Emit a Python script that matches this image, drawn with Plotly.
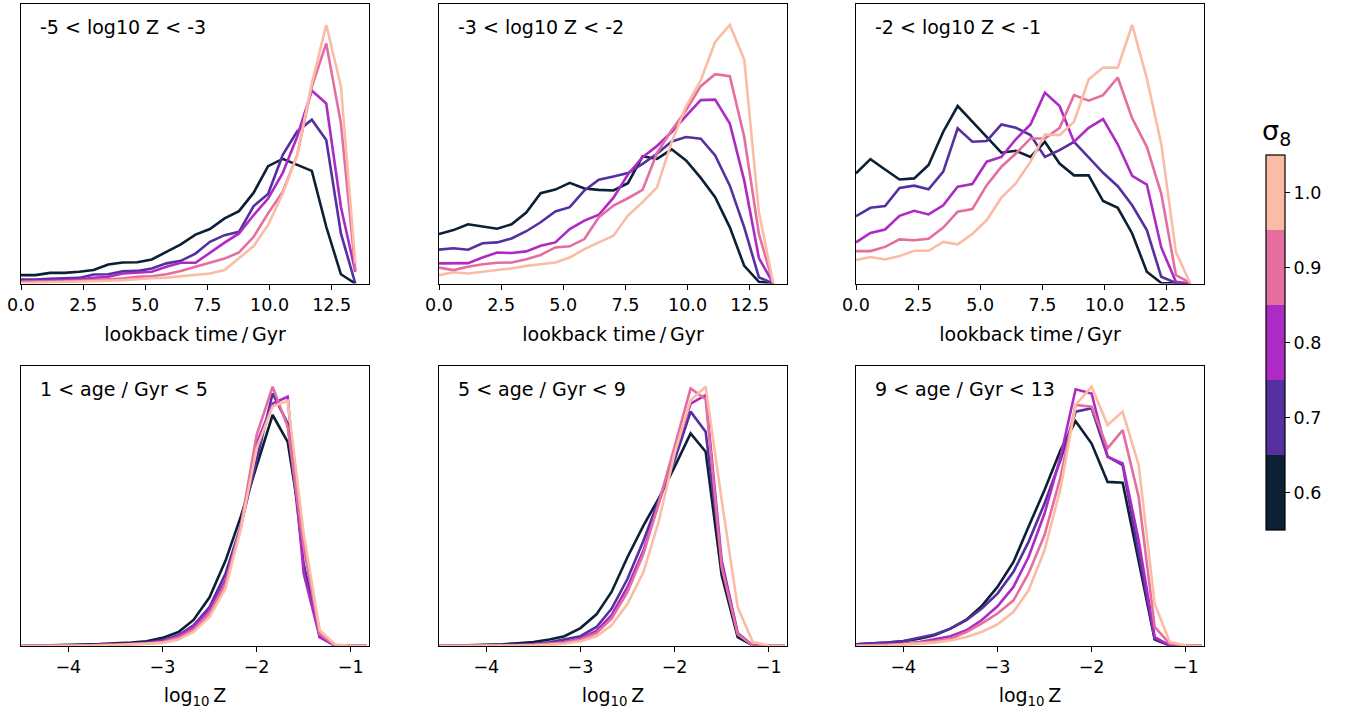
import plotly.graph_objects as go

# ---------------- data ----------------
sigma8 = [0.6, 0.7, 0.8, 0.9, 1.0]
colors = ["#0b1f35", "#5530a0", "#ad2bc4", "#e46ea0", "#fbbca6"]

lookback = [0.00, 0.58, 1.17, 1.75, 2.34, 2.92, 3.51, 4.09, 4.68, 5.26, 5.85, 6.43,
            7.02, 7.60, 8.19, 8.77, 9.36, 9.94, 10.53, 11.11, 11.70, 12.28, 12.87, 13.45]
logZ = [-4.50, -4.33, -4.17, -4.00, -3.83, -3.67, -3.50, -3.33, -3.17, -3.00, -2.83, -2.67,
        -2.50, -2.33, -2.17, -2.00, -1.83, -1.67, -1.50, -1.33, -1.17, -1.00, -0.83]

top_titles = ["-5 < log10 Z < -3", "-3 < log10 Z < -2", "-2 < log10 Z < -1"]
bottom_titles = ["1 < age / Gyr < 5", "5 < age / Gyr < 9", "9 < age / Gyr < 13"]

# time distributions (arbitrary units), one list per sigma8
sfh_z1 = [
    [3.0, 3.0, 3.8, 3.8, 4.2, 4.8, 6.8, 7.5, 7.6, 8.6, 11.3, 14.0, 17.5, 19.5, 23.3, 25.9, 32.5, 42.0, 44.6, 42.4, 40.3, 20.3, 3.3, 0.0],
    [1.4, 1.4, 1.7, 1.8, 2.0, 3.2, 3.3, 4.4, 4.5, 5.4, 7.2, 8.1, 10.7, 14.9, 17.3, 18.5, 27.7, 32.0, 46.0, 54.4, 58.6, 51.3, 17.9, 0.0],
    [0.8, 0.8, 1.0, 1.2, 1.4, 2.0, 2.4, 3.6, 3.8, 4.2, 6.0, 7.4, 7.4, 11.1, 14.6, 17.9, 24.5, 30.4, 39.6, 52.5, 69.0, 64.4, 27.4, 4.2],
    [0.6, 0.6, 0.7, 0.8, 1.0, 1.2, 1.4, 1.8, 2.4, 2.6, 3.3, 4.5, 6.0, 7.4, 8.9, 11.1, 16.7, 25.1, 32.8, 45.9, 70.4, 85.9, 57.3, 4.8],
    [0.2, 0.3, 0.4, 0.5, 0.6, 0.8, 1.0, 1.2, 1.6, 1.9, 2.1, 2.6, 3.2, 3.6, 4.8, 9.0, 13.4, 20.9, 32.2, 45.9, 71.6, 92.5, 70.6, 7.2],
]
sfh_z2 = [
    [17.7, 19.1, 21.2, 20.3, 19.6, 21.2, 25.4, 32.3, 33.6, 36.0, 34.0, 33.5, 33.3, 35.9, 45.5, 44.6, 48.0, 44.0, 37.8, 30.9, 20.1, 6.3, 0.6, 0.0],
    [12.1, 12.6, 12.1, 14.4, 14.7, 16.1, 18.7, 21.9, 25.8, 27.3, 33.3, 37.1, 38.3, 39.5, 42.8, 46.4, 50.8, 52.4, 51.8, 45.8, 35.0, 20.1, 2.2, 0.0],
    [7.2, 7.3, 7.3, 9.3, 11.1, 10.9, 11.5, 13.5, 14.7, 19.5, 22.5, 24.6, 30.7, 39.0, 45.2, 49.2, 54.2, 60.0, 65.6, 65.8, 57.2, 36.8, 9.1, 0.0],
    [5.7, 4.8, 6.0, 6.9, 7.4, 7.5, 8.7, 10.2, 12.9, 13.3, 15.9, 23.7, 27.9, 30.5, 33.5, 46.7, 54.8, 62.0, 70.6, 74.9, 74.2, 52.4, 17.7, 0.0],
    [3.0, 4.0, 3.6, 4.3, 4.8, 5.4, 6.3, 6.9, 7.5, 9.3, 12.3, 14.7, 17.1, 24.3, 29.1, 34.4, 50.6, 63.4, 72.7, 86.4, 92.5, 80.1, 25.5, 0.0],
]
sfh_z3 = [
    [39.4, 44.5, 40.8, 37.2, 37.6, 42.4, 54.3, 63.5, 57.9, 52.3, 46.8, 47.5, 45.3, 50.7, 42.9, 38.7, 38.7, 29.5, 27.1, 17.9, 4.2, 0.2, 0.0, 0.0],
    [24.1, 27.1, 27.7, 34.2, 35.0, 33.7, 40.0, 55.5, 50.7, 51.0, 56.9, 55.7, 53.1, 45.3, 47.7, 50.7, 45.1, 39.6, 34.8, 28.0, 19.1, 2.4, 0.2, 0.0],
    [14.7, 18.1, 19.3, 24.2, 26.0, 24.7, 28.0, 34.6, 35.6, 43.6, 45.3, 51.6, 56.9, 68.3, 63.5, 50.7, 55.7, 58.8, 49.8, 38.5, 35.4, 12.9, 0.6, 0.0],
    [11.6, 11.6, 13.1, 15.8, 15.5, 16.0, 20.0, 25.7, 26.6, 35.2, 41.8, 46.5, 51.9, 51.9, 55.7, 67.4, 65.4, 67.4, 73.7, 59.1, 48.9, 32.2, 3.0, 0.2],
    [8.4, 9.5, 8.6, 9.8, 11.7, 11.7, 14.9, 14.0, 17.7, 22.7, 30.7, 35.8, 43.6, 53.3, 53.1, 57.9, 73.0, 77.3, 77.2, 92.5, 73.4, 49.9, 11.3, 0.0],
]

# metallicity distributions (arbitrary units), one list per sigma8
mdf_a1 = [
    [0.0, 0.1, 0.2, 0.4, 0.5, 0.7, 1.0, 1.2, 1.7, 2.9, 5.0, 9.3, 17.4, 30.5, 46.0, 64.0, 82.5, 72.9, 37.1, 3.2, 0.2, 0.0, 0.0],
    [0.0, 0.0, 0.1, 0.2, 0.3, 0.4, 0.6, 0.8, 1.2, 2.0, 3.8, 7.4, 13.9, 25.9, 42.6, 66.4, 90.2, 79.5, 29.4, 3.8, 0.2, 0.0, 0.0],
    [0.0, 0.0, 0.1, 0.2, 0.2, 0.3, 0.5, 0.7, 1.0, 1.8, 3.5, 6.8, 13.0, 23.5, 42.0, 72.3, 86.6, 89.0, 25.9, 3.2, 0.2, 0.0, 0.0],
    [0.0, 0.0, 0.0, 0.1, 0.2, 0.3, 0.4, 0.6, 0.8, 1.4, 3.0, 5.8, 11.6, 22.3, 42.6, 75.3, 92.6, 78.3, 35.4, 4.4, 0.2, 0.0, 0.0],
    [0.0, 0.0, 0.0, 0.1, 0.1, 0.2, 0.3, 0.5, 0.7, 1.1, 2.3, 5.0, 10.4, 20.5, 41.4, 70.6, 85.5, 87.6, 40.2, 5.6, 0.6, 0.0, 0.0],
]
mdf_a2 = [
    [0.0, 0.1, 0.2, 0.4, 0.6, 1.0, 1.4, 2.3, 3.5, 6.4, 11.3, 19.3, 31.8, 43.1, 52.6, 64.0, 75.9, 69.4, 25.3, 3.2, 0.2, 0.0, 0.0],
    [0.0, 0.0, 0.1, 0.2, 0.4, 0.6, 0.7, 1.3, 2.3, 3.5, 6.8, 13.3, 24.0, 37.7, 52.0, 66.4, 83.7, 76.5, 29.4, 4.4, 0.2, 0.0, 0.0],
    [0.0, 0.0, 0.0, 0.1, 0.2, 0.3, 0.5, 0.8, 1.4, 2.6, 5.4, 11.0, 21.1, 34.2, 50.9, 68.8, 86.6, 89.6, 30.6, 4.6, 0.2, 0.0, 0.0],
    [0.0, 0.0, 0.0, 0.1, 0.1, 0.2, 0.4, 0.7, 1.2, 2.3, 4.6, 9.8, 19.3, 33.0, 50.9, 71.2, 92.0, 88.1, 28.2, 4.2, 0.2, 0.0, 0.0],
    [0.0, 0.0, 0.0, 0.0, 0.1, 0.1, 0.2, 0.4, 0.8, 1.7, 3.5, 7.4, 15.1, 26.5, 44.3, 68.8, 87.8, 92.6, 52.1, 13.9, 1.4, 0.2, 0.0],
]
mdf_a3 = [
    [0.6, 0.8, 1.2, 1.7, 2.6, 3.8, 6.2, 9.4, 14.2, 21.1, 30.0, 42.6, 55.7, 70.0, 80.3, 72.3, 58.6, 58.3, 30.6, 2.3, 0.2, 0.0, 0.0],
    [0.6, 0.8, 1.2, 1.8, 2.9, 4.1, 6.2, 9.2, 13.3, 18.7, 26.5, 37.2, 50.9, 66.4, 83.7, 84.9, 67.6, 64.6, 33.0, 2.6, 0.2, 0.0, 0.0],
    [0.2, 0.4, 0.5, 0.8, 1.4, 2.3, 3.5, 5.6, 9.2, 14.2, 21.1, 31.8, 47.3, 67.6, 91.7, 90.2, 67.6, 65.2, 37.8, 3.2, 0.2, 0.0, 0.0],
    [0.1, 0.2, 0.4, 0.7, 1.2, 1.7, 2.6, 5.0, 8.0, 11.6, 16.3, 25.9, 39.6, 60.4, 86.1, 85.5, 70.6, 77.1, 53.2, 6.8, 0.8, 0.2, 0.0],
    [0.1, 0.1, 0.2, 0.5, 0.8, 1.2, 2.0, 3.2, 5.0, 7.7, 12.2, 19.9, 34.2, 56.3, 86.1, 92.6, 78.9, 83.7, 64.6, 15.1, 1.4, 0.2, 0.0],
]

top_data = [sfh_z1, sfh_z2, sfh_z3]
bottom_data = [mdf_a1, mdf_a2, mdf_a3]

# ---------------- layout ----------------
W, H = 1352, 710
FONT = "DejaVu Sans"
TICK_SIZE = 17.5
LABEL_SIZE = 19
col_px = [(21, 369), (439, 787), (856, 1204)]
row_px = [(4, 283.5), (366, 646)]


def xdom(c):
    return [col_px[c][0] / W, col_px[c][1] / W]


def ydom(r):
    return [1 - row_px[r][1] / H, 1 - row_px[r][0] / H]


fig = go.Figure()

axis_common = dict(showline=True, mirror=True, linecolor="black", linewidth=1.2,
                   showgrid=False, zeroline=False, ticks="outside", ticklen=5,
                   tickwidth=1.2, tickcolor="black", automargin=False,
                   tickfont=dict(family=FONT, size=TICK_SIZE, color="black"))

layout = dict(width=W, height=H, margin=dict(l=0, r=0, t=0, b=0, pad=0),
              plot_bgcolor="white", paper_bgcolor="white", showlegend=False,
              font=dict(family=FONT, color="black"))

annotations = []
n = 0
for r in range(2):
    for c in range(3):
        n += 1
        xa = "xaxis" if n == 1 else f"xaxis{n}"
        ya = "yaxis" if n == 1 else f"yaxis{n}"
        xref = "x" if n == 1 else f"x{n}"
        yref = "y" if n == 1 else f"y{n}"
        if r == 0:
            xs = lookback
            series = top_data[c]
            layout[xa] = dict(axis_common, domain=xdom(c), anchor=yref, range=[0, 14.0],
                              tickvals=[0, 2.5, 5, 7.5, 10, 12.5],
                              ticktext=["0.0", "2.5", "5.0", "7.5", "10.0", "12.5"],
                              title=dict(text="lookback time\u2009/\u2009Gyr", standoff=14,
                                         font=dict(family=FONT, size=LABEL_SIZE, color="black")))
            label = top_titles[c]
        else:
            xs = logZ
            series = bottom_data[c]
            layout[xa] = dict(axis_common, domain=xdom(c), anchor=yref, range=[-4.503, -0.806],
                              tickvals=[-4, -3, -2, -1],
                              ticktext=["\u22124", "\u22123", "\u22122", "\u22121"],
                              title=dict(text="log<sub>10</sub>\u2009Z", standoff=12,
                                         font=dict(family=FONT, size=LABEL_SIZE, color="black")))
            label = bottom_titles[c]
        layout[ya] = dict(axis_common, domain=ydom(r), anchor=xref, range=[0, 100],
                          showticklabels=False, ticks="")
        for ys, col in zip(series, colors):
            fig.add_trace(go.Scatter(x=xs, y=ys, mode="lines", xaxis=xref, yaxis=yref,
                                     line=dict(color=col, width=2.6), hoverinfo="skip",
                                     cliponaxis=True))
        annotations.append(dict(text=label, xref="paper", yref="paper",
                                x=(col_px[c][0] + 17) / W,
                                y=1 - (row_px[r][0] + 23) / H,
                                xanchor="left", yanchor="middle", showarrow=False,
                                font=dict(family=FONT, size=LABEL_SIZE, color="black")))

# colorbar title
annotations.append(dict(text="\u03c3<sub>8</sub>", xref="paper", yref="paper",
                        x=1276 / W, y=1 - 133 / H, xanchor="center", yanchor="middle",
                        showarrow=False, font=dict(family=FONT, size=27, color="black")))

# discrete colorbar
cscale = []
nb = len(colors)
for i, col in enumerate(colors):
    cscale.append([i / nb, col])
    cscale.append([(i + 1) / nb, col])

cbar = dict(x=1266 / W, xanchor="left", y=1 - 342.5 / H, yanchor="middle",
            thickness=19, thicknessmode="pixels", len=375, lenmode="pixels",
            outlinewidth=1.2, outlinecolor="black", xpad=0, ypad=0,
            tickvals=sigma8, ticktext=["0.6", "0.7", "0.8", "0.9", "1.0"],
            ticks="outside", ticklen=5, tickcolor="black",
            tickfont=dict(family=FONT, size=TICK_SIZE, color="black"))

marker = dict(color=[0.8], cmin=0.55, cmax=1.05, colorscale=cscale,
              showscale=True, size=1, colorbar=cbar)

fig.add_trace(go.Scatter(x=[0], y=[-50], mode="markers", xaxis="x", yaxis="y",
                         hoverinfo="skip", marker=marker))

layout["annotations"] = annotations
fig.update_layout(**layout)
fig.write_html("out.html", config={"displayModeBar": False},
               post_script="document.body.style.margin='0';document.body.style.padding='0';")
